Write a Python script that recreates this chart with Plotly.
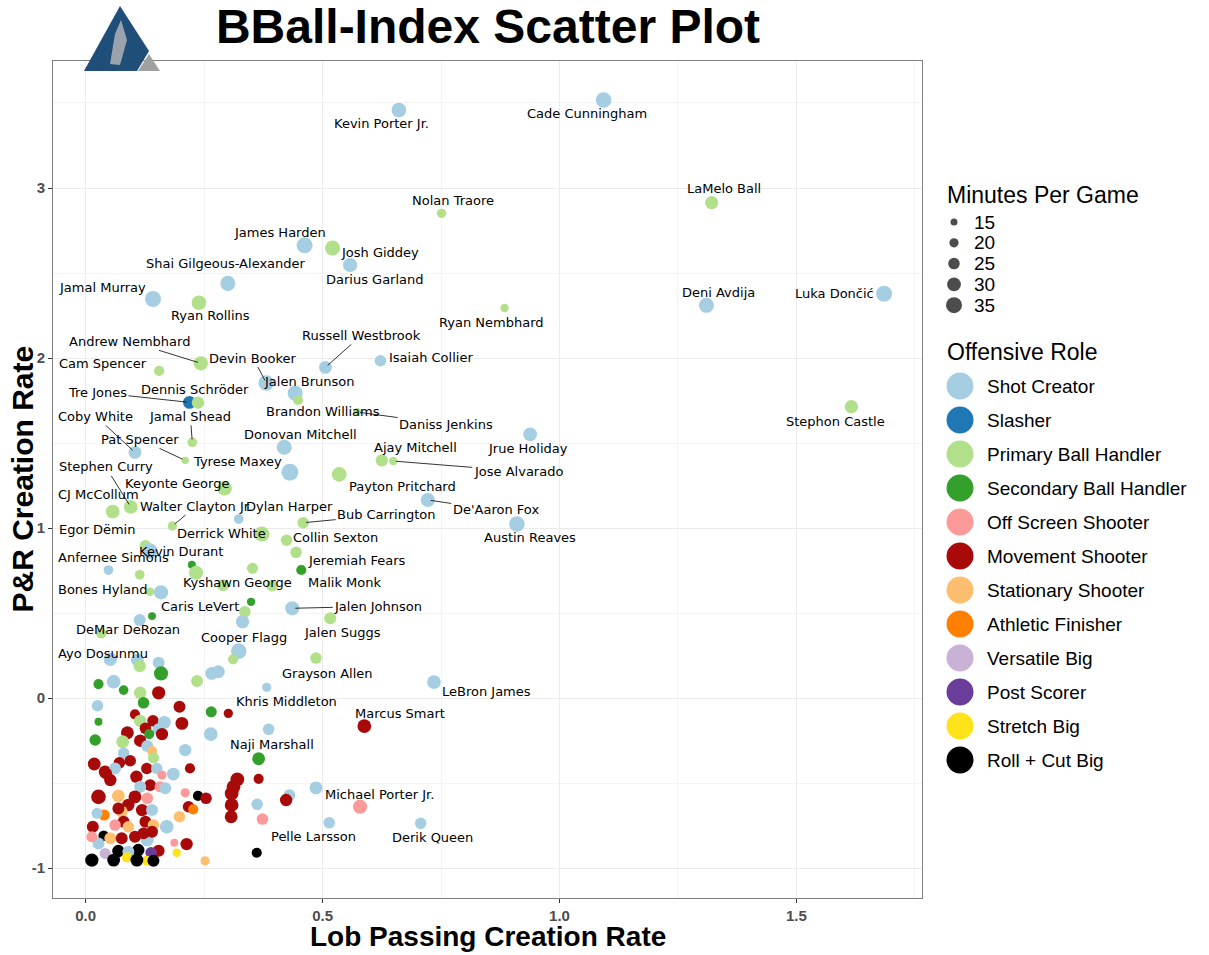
import plotly.graph_objects as go

# ---- data ----
player_names = [
    "Cade Cunningham", "Kevin Porter Jr.", "LaMelo Ball", "Nolan Traore", "James Harden",
    "Josh Giddey", "Darius Garland", "Shai Gilgeous-Alexander", "Jamal Murray", "Ryan Rollins",
    "Ryan Nembhard", "Deni Avdija", "Luka Dončić", "Russell Westbrook", "Isaiah Collier",
    "Andrew Nembhard", "Devin Booker", "Cam Spencer", "Jalen Brunson", "Brandon Williams",
    "Daniss Jenkins", "Tre Jones", "Dennis Schröder", "Coby White", "Jamal Shead",
    "Pat Spencer", "Donovan Mitchell", "Tyrese Maxey", "Ajay Mitchell", "Jose Alvarado",
    "Payton Pritchard", "Jrue Holiday", "De'Aaron Fox", "Austin Reaves", "Stephon Castle",
    "Stephen Curry", "Keyonte George", "CJ McCollum", "Walter Clayton Jr.", "Dylan Harper",
    "Derrick White", "Bub Carrington", "Collin Sexton", "Jeremiah Fears", "Malik Monk",
    "Egor Dëmin", "Kevin Durant", "Anfernee Simons", "Kyshawn George", "Bones Hyland",
    "Caris LeVert", "Jalen Johnson", "Jalen Suggs", "DeMar DeRozan", "Cooper Flagg",
    "Ayo Dosunmu", "Grayson Allen", "LeBron James", "Khris Middleton", "Marcus Smart",
    "Naji Marshall", "Michael Porter Jr.", "Derik Queen", "Pelle Larsson",
] + [""] * 124

player_roles = [
    "SC", "SC", "PB", "PB", "SC", "PB", "SC", "SC", "SC", "PB",
    "PB", "SC", "SC", "SC", "SC", "PB", "SC", "PB", "SC", "PB",
    "PB", "SL", "PB", "SC", "PB", "PB", "SC", "SC", "PB", "PB",
    "PB", "SC", "SC", "SC", "PB", "PB", "PB", "PB", "PB", "SC",
    "PB", "PB", "PB", "SB", "PB", "PB", "SC", "SC", "PB", "SC",
    "SB", "SC", "PB", "PB", "SC", "SC", "PB", "SC", "MS", "MS",
    "SB", "OS", "SC", "RC",
    # unlabeled
    "PB", "PB", "SB", "PB", "PB", "PB", "PB", "SC", "SC", "SB",
    "SC", "SC", "PB", "PB", "SC", "SC", "PB", "SC", "SB", "SB",
    "SC", "SB", "PB", "MS", "SC", "SB", "MS", "SB", "SB", "MS",
    "PB", "MS", "SC", "MS", "MS", "MS", "SC", "MS", "SB", "SC",
    "SC", "SB", "PB", "MS", "SC", "ST", "SC", "SC", "PB", "MS",
    "MS", "MS", "MS", "SC", "MS", "SC", "MS", "OS", "SC", "MS",
    "MS", "MS", "MS", "MS", "MS", "MS", "MS", "MS", "MS", "OS",
    "SC", "SC", "MS", "ST", "MS", "OS", "OS", "RC", "MS", "MS",
    "AF", "ST", "SC", "SC", "MS", "SC", "OS", "SC", "MS", "MS",
    "SC", "AF", "SC", "ST", "MS", "MS", "OS", "MS", "ST", "SC",
    "MS", "ST", "MS", "RC", "ST", "SC", "OS", "MS", "SC", "MS",
    "MS", "OS", "MS", "SR", "MS", "PS", "RC", "RC", "VB", "SC",
    "SR", "SR", "ST", "RC", "RC", "RC", "RC",
]

lob_rate = [
    1.093, 0.661, 1.321, 0.751, 0.462, 0.521, 0.558, 0.300, 0.142, 0.239,
    0.884, 1.310, 1.685, 0.506, 0.622, 0.243, 0.381, 0.155, 0.442, 0.448,
    0.573, 0.219, 0.237, 0.104, 0.225, 0.210, 0.419, 0.431, 0.625, 0.649,
    0.535, 0.938, 0.722, 0.910, 1.616, 0.095, 0.293, 0.057, 0.183, 0.323,
    0.372, 0.459, 0.424, 0.455, 0.393, 0.126, 0.135, 0.048, 0.290, 0.159,
    0.349, 0.436, 0.516, 0.033, 0.323, 0.052, 0.486, 0.735, 0.301, 0.588,
    0.365, 0.579, 0.707, 0.361,
    0.444, 0.114, 0.224, 0.233, 0.352, 0.136, 0.336, 0.331, 0.114, 0.140,
    0.109, 0.154, 0.114, 0.311, 0.266, 0.280, 0.235, 0.382, 0.159, 0.027,
    0.059, 0.080, 0.115, 0.154, 0.025, 0.122, 0.198, 0.265, 0.027, 0.104,
    0.115, 0.142, 0.166, 0.203, 0.126, 0.088, 0.154, 0.161, 0.134, 0.264,
    0.386, 0.020, 0.078, 0.115, 0.130, 0.140, 0.210, 0.080, 0.143, 0.018,
    0.041, 0.071, 0.094, 0.062, 0.129, 0.150, 0.107, 0.161, 0.185, 0.220,
    0.365, 0.320, 0.312, 0.308, 0.308, 0.307, 0.043, 0.052, 0.136, 0.157,
    0.115, 0.168, 0.027, 0.069, 0.104, 0.130, 0.210, 0.237, 0.254, 0.217,
    0.227, 0.198, 0.486, 0.430, 0.423, 0.362, 0.373, 0.514, 0.090, 0.119,
    0.140, 0.039, 0.024, 0.076, 0.069, 0.080, 0.062, 0.015, 0.090, 0.171,
    0.126, 0.143, 0.104, 0.038, 0.052, 0.027, 0.013, 0.076, 0.130, 0.140,
    0.122, 0.187, 0.213, 0.192, 0.154, 0.138, 0.111, 0.069, 0.041, 0.090,
    0.087, 0.129, 0.252, 0.013, 0.059, 0.108, 0.143,
]

pnr_rate = [
    3.518, 3.459, 2.914, 2.851, 2.663, 2.647, 2.547, 2.439, 2.347, 2.325,
    2.294, 2.310, 2.378, 1.945, 1.984, 1.969, 1.853, 1.924, 1.794, 1.753,
    1.682, 1.739, 1.737, 1.445, 1.504, 1.398, 1.475, 1.328, 1.398, 1.394,
    1.316, 1.551, 1.165, 1.024, 1.714, 1.124, 1.234, 1.096, 1.012, 1.053,
    0.965, 1.031, 0.928, 0.753, 0.661, 0.896, 0.865, 0.753, 0.663, 0.622,
    0.566, 0.528, 0.469, 0.381, 0.276, 0.228, 0.235, 0.094, -0.090, -0.165,
    -0.357, -0.639, -0.737, -0.910,
    0.857, 0.725, 0.784, 0.737, 0.763, 0.625, 0.508, 0.449, 0.459, 0.482,
    0.224, 0.208, 0.188, 0.228, 0.145, 0.155, 0.100, 0.063, 0.145, 0.082,
    0.096, 0.047, 0.031, 0.031, -0.045, -0.028, -0.051, -0.081, -0.139, -0.096,
    -0.134, -0.134, -0.143, -0.149, -0.178, -0.204, -0.184, -0.212, -0.212, -0.212,
    -0.184, -0.247, -0.257, -0.251, -0.282, -0.312, -0.306, -0.325, -0.351, -0.388,
    -0.434, -0.381, -0.369, -0.414, -0.414, -0.414, -0.463, -0.453, -0.447, -0.414,
    -0.475, -0.478, -0.522, -0.561, -0.629, -0.698, -0.443, -0.482, -0.512, -0.522,
    -0.522, -0.531, -0.581, -0.576, -0.581, -0.590, -0.557, -0.575, -0.590, -0.639,
    -0.655, -0.698, -0.528, -0.571, -0.600, -0.625, -0.712, -0.734, -0.629, -0.659,
    -0.659, -0.688, -0.678, -0.669, -0.649, -0.728, -0.747, -0.757, -0.757, -0.757,
    -0.728, -0.747, -0.816, -0.810, -0.825, -0.855, -0.816, -0.825, -0.835, -0.786,
    -0.796, -0.851, -0.859, -0.910, -0.898, -0.910, -0.894, -0.900, -0.914, -0.904,
    -0.937, -0.957, -0.957, -0.953, -0.953, -0.953, -0.957,
]

minutes = [
    34, 32, 29, 20, 35, 33, 31, 33, 35, 32,
    18, 33, 35, 28, 25, 31, 34, 22, 33, 22,
    18, 28, 27, 28, 21, 16, 33, 37, 27, 18,
    32, 30, 31, 34, 29, 30, 32, 30, 20, 21,
    33, 25, 25, 22, 25, 25, 34, 21, 26, 31,
    18, 31, 26, 23, 34, 29, 25, 30, 20, 30,
    28, 31, 25, 22,
    25, 21, 17, 31, 24, 18, 25, 29, 26, 17,
    28, 26, 27, 22, 28, 28, 26, 20, 31, 22,
    30, 21, 27, 29, 25, 25, 26, 24, 17, 22,
    27, 25, 28, 28, 25, 28, 26, 27, 22, 30,
    25, 25, 28, 27, 26, 22, 27, 25, 24, 28,
    28, 25, 25, 26, 25, 25, 27, 20, 28, 22,
    22, 30, 30, 30, 30, 28, 26, 27, 26, 24,
    26, 26, 32, 28, 28, 25, 20, 22, 25, 25,
    22, 25, 28, 26, 27, 25, 25, 25, 27, 27,
    26, 24, 24, 26, 26, 26, 25, 26, 25, 30,
    26, 25, 26, 23, 26, 26, 24, 26, 28, 26,
    26, 17, 27, 18, 26, 25, 27, 27, 24, 26,
    22, 22, 20, 29, 28, 28, 26,
]

role_codes = ["SC", "SL", "PB", "SB", "OS", "MS", "ST", "AF", "VB", "PS", "SR", "RC"]
role_labels = ["Shot Creator", "Slasher", "Primary Ball Handler", "Secondary Ball Handler",
               "Off Screen Shooter", "Movement Shooter", "Stationary Shooter",
               "Athletic Finisher", "Versatile Big", "Post Scorer", "Stretch Big",
               "Roll + Cut Big"]
role_colors = ["#A6CEE3", "#1F78B4", "#B2DF8A", "#33A02C", "#FB9A99", "#A80A0A",
               "#FDBF6F", "#FF7F00", "#CAB2D6", "#6A3D9A", "#FFE31A", "#000000"]

size_breaks = [15, 20, 25, 30, 35]
x_tick_vals = [0, 0.5, 1.0, 1.5]
x_tick_text = ["0.0", "0.5", "1.0", "1.5"]
y_tick_vals = [-1, 0, 1, 2, 3]
y_tick_text = ["-1", "0", "1", "2", "3"]

# label placement (pixel offsets from the point, and whether a segment is drawn)
label_layout = {
    "Cade Cunningham": (-17, 14, False), "Kevin Porter Jr.": (-17, 14, False),
    "LaMelo Ball": (12, -14, False), "Nolan Traore": (11, -13, False),
    "James Harden": (-25, -13, False), "Josh Giddey": (47, 4, False),
    "Darius Garland": (25, 14, False), "Shai Gilgeous-Alexander": (-2, -20, False),
    "Jamal Murray": (-50, -12, False), "Ryan Rollins": (12, 13, False),
    "Ryan Nembhard": (-13, 14, False), "Deni Avdija": (12, -13, False),
    "Luka Dončić": (-50, 0, False), "Russell Westbrook": (36, -32, True),
    "Isaiah Collier": (51, -3, False), "Andrew Nembhard": (-71, -22, True),
    "Devin Booker": (-13, -25, True), "Cam Spencer": (-56, -7, False),
    "Jalen Brunson": (14, -12, False), "Brandon Williams": (25, 11, False),
    "Daniss Jenkins": (89, 12, True), "Tre Jones": (-92, -10, True),
    "Dennis Schröder": (-3, -13, False), "Coby White": (-39, -36, True),
    "Jamal Shead": (-2, -26, True), "Pat Spencer": (-45, -21, True),
    "Donovan Mitchell": (16, -13, False), "Tyrese Maxey": (-52, -11, False),
    "Ajay Mitchell": (34, -13, False), "Jose Alvarado": (125, 10, True),
    "Payton Pritchard": (63, 12, False), "Jrue Holiday": (-2, 14, False),
    "De'Aaron Fox": (68, 10, True), "Austin Reaves": (13, 14, False),
    "Stephon Castle": (-16, 15, False), "Stephen Curry": (-25, -40, True),
    "Keyonte George": (-48, -5, False), "CJ McCollum": (-14, -17, False),
    "Walter Clayton Jr.": (24, -20, True), "Dylan Harper": (51, -13, False),
    "Derrick White": (-40, 0, False), "Bub Carrington": (83, -8, True),
    "Collin Sexton": (49, -3, False), "Jeremiah Fears": (56, -10, False),
    "Malik Monk": (73, -3, False), "Egor Dëmin": (-48, -16, False),
    "Kevin Durant": (31, 1, False), "Anfernee Simons": (5, -13, False),
    "Kyshawn George": (14, -3, False), "Bones Hyland": (-58, -3, False),
    "Caris LeVert": (-51, 5, False), "Jalen Johnson": (86, -2, True),
    "Jalen Suggs": (12, 14, False), "DeMar DeRozan": (27, -4, False),
    "Cooper Flagg": (5, -14, False), "Ayo Dosunmu": (-7, -6, False),
    "Grayson Allen": (12, 15, False), "LeBron James": (53, 9, False),
    "Khris Middleton": (58, -12, False), "Marcus Smart": (36, -13, False),
    "Naji Marshall": (13, -14, False), "Michael Porter Jr.": (19, -12, False),
    "Derik Queen": (12, 14, False), "Pelle Larsson": (57, -16, False),
}

# ---- layout constants (pixels) ----
W, H = 1209, 955
ML, MR, MT, MB = 53, 0, 61, 57
PLOT_RIGHT = 922
paper_w = W - ML - MR
paper_h = H - MT - MB
main_dom = (PLOT_RIGHT - ML) / paper_w

SANS = "Liberation Sans, Arial, sans-serif"
color_of = dict(zip(role_codes, role_colors))


def dot_size(m):
    return 7 + (m - 15) * 0.45


def px_x(px):
    return (px - ML) / paper_w


def px_y(py):
    return (H - MB - py) / paper_h


fig = go.Figure()

fig.add_trace(go.Scatter(
    x=lob_rate, y=pnr_rate, mode="markers",
    text=player_names,
    marker=dict(size=[dot_size(m) for m in minutes],
                color=[color_of[r] for r in player_roles],
                line=dict(width=0), opacity=1),
    hoverinfo="text+x+y", showlegend=False,
))

annotations = []
for name, x, y in zip(player_names, lob_rate, pnr_rate):
    if not name:
        continue
    dx, dy, seg = label_layout[name]
    annotations.append(dict(
        x=x, y=y, xref="x", yref="y", text=name, showarrow=True,
        ax=dx, ay=dy, arrowhead=0, arrowwidth=0.8, standoff=3,
        arrowcolor="#000000" if seg else "rgba(0,0,0,0)",
        font=dict(family="DejaVu Sans", size=13, color="#000000"),
    ))

# ---- hand made legend on a spare axis (units = pixels from plot top / right edge) ----
leg_w = W - PLOT_RIGHT
size_rows = [161 + 20.8 * i for i in range(len(size_breaks))]
role_rows = [325 + 34 * i for i in range(len(role_labels))]

fig.add_trace(go.Scatter(
    x=[32] * len(size_breaks), y=size_rows, mode="markers", xaxis="x2", yaxis="y2",
    marker=dict(size=[dot_size(m) for m in size_breaks], color="#000000", line=dict(width=0)),
    hoverinfo="skip", showlegend=False,
))
fig.add_trace(go.Scatter(
    x=[38] * len(role_labels), y=role_rows, mode="markers", xaxis="x2", yaxis="y2",
    marker=dict(size=27, color=role_colors, line=dict(width=0)),
    hoverinfo="skip", showlegend=False,
))

leg_font = dict(family=SANS, size=19, color="#000000")
annotations.append(dict(x=23, y=134, xref="x2", yref="y2", text="Minutes Per Game",
                        showarrow=False, xanchor="left", yanchor="middle",
                        font=dict(family=SANS, size=23, color="#000000")))
for m, yy in zip(size_breaks, size_rows):
    annotations.append(dict(x=50, y=yy, xref="x2", yref="y2", text=str(m), showarrow=False,
                            xanchor="left", yanchor="middle", font=leg_font))
annotations.append(dict(x=23, y=291, xref="x2", yref="y2", text="Offensive Role",
                        showarrow=False, xanchor="left", yanchor="middle",
                        font=dict(family=SANS, size=23, color="#000000")))
for lab, yy in zip(role_labels, role_rows):
    annotations.append(dict(x=63, y=yy, xref="x2", yref="y2", text=lab, showarrow=False,
                            xanchor="left", yanchor="middle", font=leg_font))

# axis titles
annotations.append(dict(x=main_dom / 2, y=0, xref="paper", yref="paper", yshift=-38,
                        text="<b>Lob Passing Creation Rate</b>", showarrow=False,
                        xanchor="center", yanchor="middle",
                        font=dict(family=SANS, size=28, color="#000000")))
annotations.append(dict(x=0, y=0.5, xref="paper", yref="paper", xshift=-31,
                        text="<b>P&R Creation Rate</b>", showarrow=False, textangle=-90,
                        xanchor="center", yanchor="middle",
                        font=dict(family=SANS, size=30, color="#000000")))

# logo (blue triangle with a grey figure, plus a grey triangle)
shapes = [
    dict(type="path", xref="paper", yref="paper", line=dict(width=0), fillcolor="#1F4E79",
         path="M {} {} L {} {} L {} {} L {} {} Z".format(
             px_x(84), px_y(71), px_x(120), px_y(6), px_x(149), px_y(51), px_x(137), px_y(71))),
    dict(type="path", xref="paper", yref="paper", line=dict(width=0), fillcolor="#A0A0A0",
         path="M {} {} L {} {} L {} {} Z".format(
             px_x(138), px_y(71), px_x(149), px_y(54), px_x(160), px_y(71))),
    dict(type="path", xref="paper", yref="paper", line=dict(width=0), fillcolor="#9AA3AD",
         path="M {} {} L {} {} L {} {} L {} {} L {} {} Z".format(
             px_x(110), px_y(64), px_x(115), px_y(34), px_x(121), px_y(20),
             px_x(127), px_y(40), px_x(120), px_y(65))),
]

axis_common = dict(
    showline=True, mirror=True, linecolor="#7F7F7F", linewidth=1,
    ticks="outside", ticklen=4, tickwidth=1, tickcolor="#333333",
    showgrid=True, gridcolor="#EBEBEB", gridwidth=1.1, zeroline=False,
    tickfont=dict(family=SANS, size=15, color="#4D4D4D", weight="bold"),
)

fig.update_layout(
    width=W, height=H,
    margin=dict(l=ML, r=MR, t=MT, b=MB),
    paper_bgcolor="#FFFFFF", plot_bgcolor="#FFFFFF",
    title=dict(text="<b>BBall-Index Scatter Plot</b>", x=488 / W, xref="container",
               xanchor="center", y=1 - 26 / H, yref="container", yanchor="middle",
               font=dict(family=SANS, size=48, color="#000000")),
    xaxis=dict(domain=[0, main_dom], range=[-0.069, 1.765],
               tickvals=x_tick_vals, ticktext=x_tick_text,
               minor=dict(tick0=0, dtick=0.25, showgrid=True, gridcolor="#F4F4F4",
                          gridwidth=0.6, ticklen=0),
               **axis_common),
    yaxis=dict(domain=[0, 1], range=[-1.176, 3.747],
               tickvals=y_tick_vals, ticktext=y_tick_text,
               minor=dict(tick0=0, dtick=0.5, showgrid=True, gridcolor="#F4F4F4",
                          gridwidth=0.6, ticklen=0),
               **axis_common),
    xaxis2=dict(domain=[main_dom, 1], range=[0, leg_w], visible=False, fixedrange=True,
                anchor="y2"),
    yaxis2=dict(domain=[0, 1], range=[paper_h, 0], visible=False, fixedrange=True,
                anchor="x2"),
    annotations=annotations,
    shapes=shapes,
    showlegend=False,
)

fig.write_html("out.html", config={"displayModeBar": False},
               post_script="document.body.style.margin='0';")
